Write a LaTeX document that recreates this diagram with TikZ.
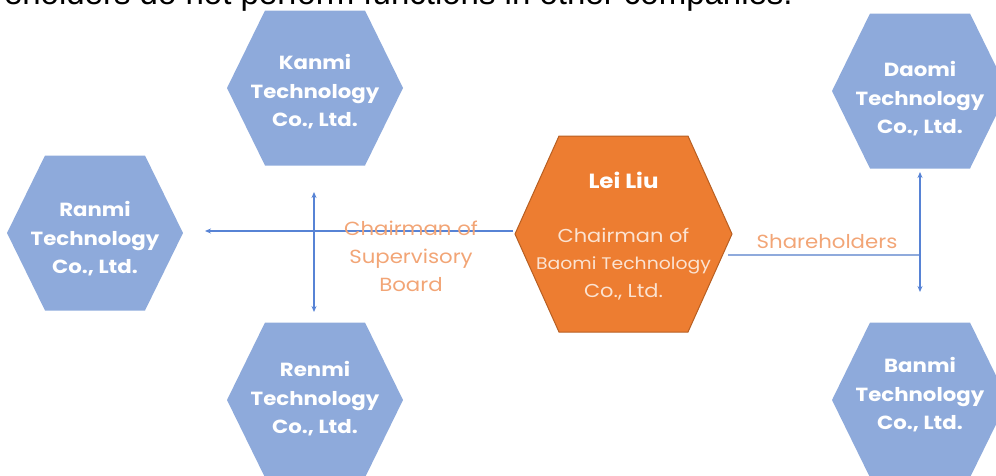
\documentclass[tikz,border=0pt]{standalone}
\usepackage{fontspec}
\setmainfont{Poppins}[FakeStretch=1.12]
\newfontfamily\headfont{Liberation Sans}
\usetikzlibrary{arrows.meta}
\definecolor{hexblue}{HTML}{8EAADB}
\definecolor{hexorange}{HTML}{ED7D31}
\definecolor{hexorangeedge}{HTML}{B85F22}
\definecolor{lineblue}{HTML}{5783D5}
\definecolor{linelight}{HTML}{8FAADC}
\definecolor{labelorange}{HTML}{F2A576}
\definecolor{orangetext}{HTML}{FBE3D2}
\tikzset{
  bluehex/.style={fill=hexblue, draw=none},
  orangehex/.style={fill=hexorange, draw=hexorangeedge, line width=1pt},
  companytext/.style={text=white, font=\bfseries\fontsize{19}{28.5}\selectfont, align=center, inner sep=0pt},
  nametext/.style={text=white, font=\bfseries\fontsize{20.5}{28}\selectfont, inner sep=0pt},
  roletext/.style={text=orangetext, font=\fontsize{18.7}{27.5}\selectfont, align=center, inner sep=0pt},
  edgelabel/.style={text=labelorange, font=\fontsize{19}{28}\selectfont, align=center, inner sep=0pt},
  headtext/.style={text=black, font=\headfont\fontsize{33}{36}\selectfont, inner sep=0pt},
  connector/.style={draw=lineblue, line width=1.4pt, {Stealth[length=6pt,width=5pt]}-{Stealth[length=6pt,width=5pt]}},
  leftconnector/.style={draw=lineblue, line width=1.4pt, -{Stealth[length=6pt,width=5pt]}},
  plainconnector/.style={draw=linelight, line width=2pt}
}
\newcommand\bluehexpath[1]{\path[bluehex, shift={#1}] (-88,0) -- (-50,-77.5) -- (50,-77.5) -- (88,0) -- (50,77.5) -- (-50,77.5) -- cycle;}
\begin{document}
\begin{tikzpicture}[x=1pt,y=-1pt]
\useasboundingbox (0,0) rectangle (996,475);
\clip (0,0) rectangle (996,475);
% heading (cropped at top)
\node[headtext, anchor=base east] (head) at (793,4) {Shareholders do not perform functions in other companies.};
% hexagons
\bluehexpath{(315,88)}
\bluehexpath{(95,233)}
\bluehexpath{(315,400)}
\bluehexpath{(920,91)}
\bluehexpath{(920,400)}
\path[orangehex, shift={(623.5,234)}] (-108.5,0) -- (-64.5,-98) -- (64.5,-98) -- (108.5,0) -- (64.5,98) -- (-64.5,98) -- cycle;
% connector end points
\coordinate (leiW) at (513,231);
\coordinate (leiE) at (728,255);
\coordinate (leftTip) at (205,231);
\coordinate (vlTop) at (314,192);
\coordinate (vlBot) at (314,312);
\coordinate (vrJoin) at (920,255);
\coordinate (vrTop) at (920,172);
\coordinate (vrBot) at (920,292);
% connectors
\draw[leftconnector] (leiW) -- (leftTip);
\draw[connector] (vlTop) -- (vlBot);
\draw[plainconnector] (leiE) -- (vrJoin);
\draw[connector] (vrTop) -- (vrBot);
% texts
\node[companytext] (kanmi) at (315,92) {Kanmi\\Technology\\Co., Ltd.};
\node[companytext] (ranmi) at (95,239) {Ranmi\\Technology\\Co., Ltd.};
\node[companytext] (renmi) at (315,399) {Renmi\\Technology\\Co., Ltd.};
\node[companytext] (daomi) at (920,99) {Daomi\\Technology\\Co., Ltd.};
\node[companytext] (banmi) at (920,395) {Banmi\\Technology\\Co., Ltd.};
\node[nametext] (lei) at (623.5,180) {Lei Liu};
\node[roletext] (leirole) at (623.5,264) {Chairman of\\{\fontsize{16.8}{27.5}\selectfont Baomi Technology}\\Co., Ltd.};
\node[edgelabel] (superv) at (411,256) {Chairman of\\Supervisory\\Board};
\node[edgelabel] (share) at (827,242) {Shareholders};
\end{tikzpicture}
\end{document}
